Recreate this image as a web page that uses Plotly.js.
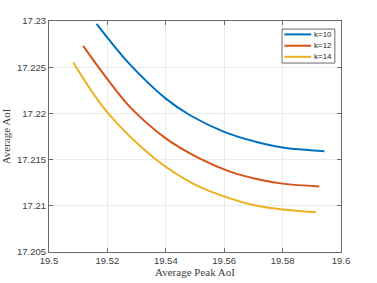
<!DOCTYPE html>
<html>
<head>
<meta charset="utf-8">
<script src="https://cdn.plot.ly/plotly-3.0.1.min.js"></script>
<style>html,body{margin:0;padding:0;background:#fff;}#chart{width:377px;height:283px;}</style>
</head>
<body>
<div id="chart"></div>
<script>
const seriesNames = ["k=10", "k=12", "k=14"];
const seriesColors = ["#0072BD", "#D95319", "#EDB120"];
const xK10 = [19.5163, 19.52, 19.5277, 19.54, 19.5483, 19.56, 19.5711, 19.58, 19.5943];
const yK10 = [17.2297, 17.2282, 17.2253, 17.2216, 17.2198, 17.2180, 17.2169, 17.2163, 17.2159];
const xK12 = [19.5117, 19.52, 19.5277, 19.54, 19.5517, 19.562, 19.5711, 19.58, 19.5926];
const yK12 = [17.2273, 17.2237, 17.2207, 17.2173, 17.2151, 17.2137, 17.2129, 17.2124, 17.2121];
const xK14 = [19.5083, 19.52, 19.5363, 19.55, 19.562, 19.5711, 19.58, 19.5914];
const yK14 = [17.2255, 17.2201, 17.2151, 17.2123, 17.2108, 17.2100, 17.2096, 17.2093];
const xTickVals = [19.5, 19.52, 19.54, 19.56, 19.58, 19.6];
const xTickText = ["19.5", "19.52", "19.54", "19.56", "19.58", "19.6"];
const yTickVals = [17.205, 17.21, 17.215, 17.22, 17.225, 17.23];
const yTickText = ["17.205", "17.21", "17.215", "17.22", "17.225", "17.23"];

const xs = [xK10, xK12, xK14];
const ys = [yK10, yK12, yK14];
const traces = seriesNames.map((n, i) => ({
  x: xs[i], y: ys[i], name: n, type: "scatter", mode: "lines",
  line: {color: seriesColors[i], width: 2, shape: "spline", smoothing: 1}
}));

// compact MATLAB-style legend (paper coordinates)
const legX0 = 0.798, legX1 = 0.979, legY0 = 0.818, legY1 = 0.965;
const entryY = [0.942, 0.893, 0.845];
const shapes = [{type: "rect", xref: "paper", yref: "paper", x0: legX0, x1: legX1, y0: legY0, y1: legY1,
  line: {color: "#6a6a6a", width: 1}, fillcolor: "#ffffff", layer: "above"}];
const annotations = [];
seriesNames.forEach((n, i) => {
  shapes.push({type: "line", xref: "paper", yref: "paper", x0: 0.806, x1: 0.898, y0: entryY[i], y1: entryY[i],
    line: {color: seriesColors[i], width: 2}, layer: "above"});
  annotations.push({xref: "paper", yref: "paper", x: 0.902, y: entryY[i], xanchor: "left", yanchor: "middle",
    text: n, showarrow: false, font: {family: "Liberation Sans, Arial, sans-serif", size: 8, color: "#262626"}});
});

const axisCommon = {
  showline: true, linecolor: "#6a6a6a", linewidth: 1, mirror: "ticks",
  ticks: "inside", ticklen: 4, tickcolor: "#6a6a6a",
  showgrid: true, gridcolor: "#ebebeb", gridwidth: 1, zeroline: false,
  tickfont: {family: "Liberation Sans, Arial, sans-serif", size: 9.5, color: "#404040"}
};

const layout = {
  width: 377, height: 283,
  margin: {l: 49, r: 36, t: 21, b: 31},
  paper_bgcolor: "#fff", plot_bgcolor: "#fff",
  showlegend: false,
  shapes: shapes, annotations: annotations,
  xaxis: Object.assign({}, axisCommon, {
    range: [19.5, 19.6], tickmode: "array", tickvals: xTickVals, ticktext: xTickText,
    title: {text: "Average Peak AoI", standoff: 2,
      font: {family: "Liberation Serif, Times New Roman, serif", size: 11, color: "#404040"}}
  }),
  yaxis: Object.assign({}, axisCommon, {
    range: [17.205, 17.23], tickmode: "array", tickvals: yTickVals, ticktext: yTickText,
    title: {text: "Average AoI", standoff: 4,
      font: {family: "Liberation Serif, Times New Roman, serif", size: 11, color: "#404040"}}
  })
};

Plotly.newPlot("chart", traces, layout, {displayModeBar: false, staticPlot: true});
</script>
</body>
</html>
